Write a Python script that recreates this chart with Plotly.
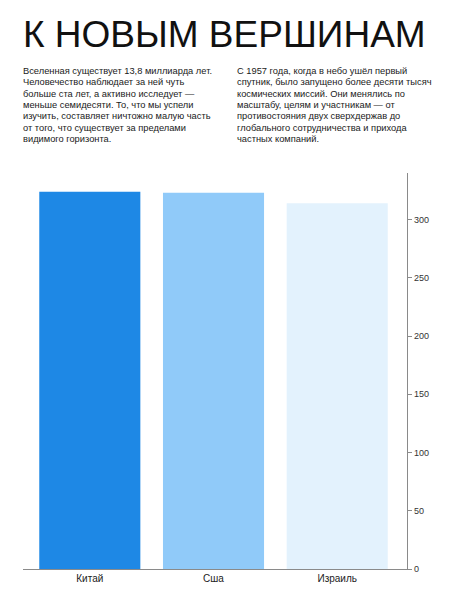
import plotly.graph_objects as go

# Dados do gráfico
countries = ["Китай", "Сша", "Израиль"]
values = [324, 323, 314]
bar_colors = ["#1E88E5", "#90CAF9", "#E3F2FD"]

title_text = "К НОВЫМ ВЕРШИНАМ"
left_lines = [
    "Вселенная существует 13,8 миллиарда лет.",
    "Человечество наблюдает за ней чуть",
    "больше ста лет, а активно исследует —",
    "меньше семидесяти. То, что мы успели",
    "изучить, составляет ничтожно малую часть",
    "от того, что существует за пределами",
    "видимого горизонта.",
]
right_lines = [
    "С 1957 года, когда в небо ушёл первый",
    "спутник, было запущено более десяти тысяч",
    "космических миссий. Они менялись по",
    "масштабу, целям и участникам — от",
    "противостояния двух сверхдержав до",
    "глобального сотрудничества и прихода",
    "частных компаний.",
]

W, H = 450, 608
OFF = 8  # margem padrão do <body> na página
# posições na tela (px): eixo x em y=569, eixo y em x=407, topo em y=173
M_L = 23 - OFF
M_T = 173 - OFF
M_R = W - (407 - OFF)
M_B = H - (569 - OFF)
PLOT_W = W - M_L - M_R
PLOT_H = H - M_T - M_B
FONT = "Liberation Sans, Arial, sans-serif"


def px_x(x):
    # pixel da tela -> fração do papel (horizontal)
    return (x - OFF - M_L) / PLOT_W


def px_y(y):
    # pixel da tela -> fração do papel (vertical)
    return (H - M_B - (y - OFF)) / PLOT_H


fig = go.Figure()
fig.add_trace(go.Bar(
    x=countries,
    y=values,
    marker=dict(color=bar_colors, line=dict(width=0)),
    hoverinfo="x+y",
))

annotations = [dict(
    text=title_text, xref="paper", yref="paper",
    x=px_x(21), y=px_y(34), xanchor="left", yanchor="middle",
    showarrow=False, font=dict(family=FONT, size=37, color="#111111"),
)]

line_h = 11.3
for i, line in enumerate(left_lines):
    annotations.append(dict(
        text=line, xref="paper", yref="paper",
        x=px_x(21), y=px_y(71 + i * line_h), xanchor="left", yanchor="middle",
        showarrow=False, font=dict(family=FONT, size=9.3, color="#1a1a1a"),
    ))
for i, line in enumerate(right_lines):
    annotations.append(dict(
        text=line, xref="paper", yref="paper",
        x=px_x(235), y=px_y(71 + i * line_h), xanchor="left", yanchor="middle",
        showarrow=False, font=dict(family=FONT, size=9.3, color="#1a1a1a"),
    ))

fig.update_layout(
    width=W, height=H,
    margin=dict(l=M_L, r=M_R, t=M_T, b=M_B, pad=0),
    paper_bgcolor="white", plot_bgcolor="white",
    showlegend=False,
    bargap=0.183,
    annotations=annotations,
    xaxis=dict(
        range=[-0.54, 2.564],
        showline=True, linecolor="#8a8a8a", linewidth=1.3,
        showgrid=False, zeroline=False, ticks="",
        tickfont=dict(family=FONT, size=10, color="#222222"),
    ),
    yaxis=dict(
        side="right", range=[0, 340], dtick=50,
        showline=True, linecolor="#8a8a8a", linewidth=1.3,
        ticks="outside", ticklen=4, tickcolor="#8a8a8a", tickwidth=1,
        showgrid=False, zeroline=False,
        tickfont=dict(family=FONT, size=9, color="#333333"),
    ),
)

fig.write_html("out.html")
